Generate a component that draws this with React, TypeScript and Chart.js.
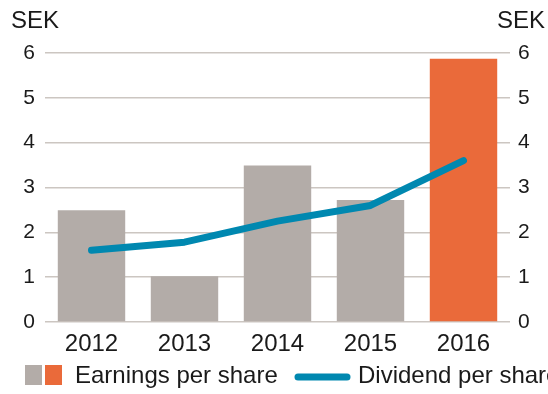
import React, { useEffect, useRef } from "react";
import { Chart, registerables } from "chart.js";

Chart.register(...registerables);

const categories = ["2012", "2013", "2014", "2015", "2016"];
const earningsPerShare = [2.49, 1.02, 3.49, 2.72, 5.87];
const dividendPerShare = [1.6, 1.78, 2.25, 2.6, 3.6];
const barColors = ["#b3aca8", "#b3aca8", "#b3aca8", "#b3aca8", "#ea6a3a"];
const lineColor = "#0088b0";
const unitLabel = "SEK";
const legendEarnings = "Earnings per share";
const legendDividend = "Dividend per share";

const FONT = "'Liberation Sans', Arial, Helvetica, sans-serif";
const TEXT = "#1a1a1a";

const overlayPlugin = {
  id: "overlay",
  afterDraw(chart: any) {
    const ctx = chart.ctx;
    ctx.save();
    ctx.fillStyle = TEXT;
    ctx.font = `24px ${FONT}`;
    ctx.textBaseline = "alphabetic";
    // unit labels above both axes
    ctx.textAlign = "left";
    ctx.fillText(unitLabel, 11, 28);
    ctx.textAlign = "right";
    ctx.fillText(unitLabel, 545, 28);
    // legend
    const ly = 365;
    ctx.fillStyle = barColors[0];
    ctx.fillRect(25, ly, 17, 20);
    ctx.fillStyle = barColors[4];
    ctx.fillRect(45, ly, 17, 20);
    ctx.fillStyle = TEXT;
    ctx.textAlign = "left";
    ctx.font = `24px ${FONT}`;
    ctx.fillText(legendEarnings, 75, 383);
    ctx.strokeStyle = lineColor;
    ctx.lineWidth = 7;
    ctx.lineCap = "round";
    ctx.beginPath();
    ctx.moveTo(298, 377);
    ctx.lineTo(347, 377);
    ctx.stroke();
    ctx.fillText(legendDividend, 358, 383);
    ctx.restore();
  },
};

export default function App() {
  const ref = useRef<HTMLCanvasElement | null>(null);
  useEffect(() => {
    document.body.style.margin = "0";
    const canvas = ref.current!;
    const chart = new Chart(canvas, {
      data: {
        labels: categories,
        datasets: [
          {
            type: "line",
            label: legendDividend,
            data: dividendPerShare,
            borderColor: lineColor,
            borderWidth: 7,
            borderCapStyle: "round",
            borderJoinStyle: "round",
            pointRadius: 0,
            tension: 0,
            yAxisID: "y",
            order: 0,
          },
          {
            type: "bar",
            label: legendEarnings,
            data: earningsPerShare,
            backgroundColor: barColors,
            barPercentage: 0.725,
            categoryPercentage: 1,
            yAxisID: "y",
            order: 1,
          },
        ],
      } as any,
      options: {
        animation: false,
        responsive: false,
        maintainAspectRatio: false,
        layout: { padding: { top: 53, bottom: 26, left: 0, right: 0 } },
        plugins: { legend: { display: false }, tooltip: { enabled: false } },
        scales: {
          x: {
            grid: { display: false },
            border: { display: false },
            ticks: { color: TEXT, font: { family: FONT, size: 24 }, padding: 0, maxRotation: 0, autoSkip: false },
            afterFit: (s: any) => { s.height = 46; },
          },
          y: {
            position: "left",
            min: 0,
            max: 6,
            ticks: { stepSize: 1, color: TEXT, font: { family: FONT, size: 21 }, padding: 10 },
            grid: { color: "#ccc6c1", lineWidth: 1.6, drawTicks: false },
            border: { display: false },
            afterFit: (s: any) => { s.width = 45; },
          },
          y1: {
            position: "right",
            min: 0,
            max: 6,
            ticks: { stepSize: 1, color: TEXT, font: { family: FONT, size: 21 }, padding: 8 },
            grid: { drawOnChartArea: false, drawTicks: false },
            border: { display: false },
            afterFit: (s: any) => { s.width = 38; },
          },
        },
      } as any,
      plugins: [overlayPlugin],
    });
    return () => chart.destroy();
  }, []);
  return (
    <div style={{ width: 548, height: 394, background: "#fff" }}>
      <canvas ref={ref} width={548} height={394} style={{ display: "block" }} />
    </div>
  );
}
